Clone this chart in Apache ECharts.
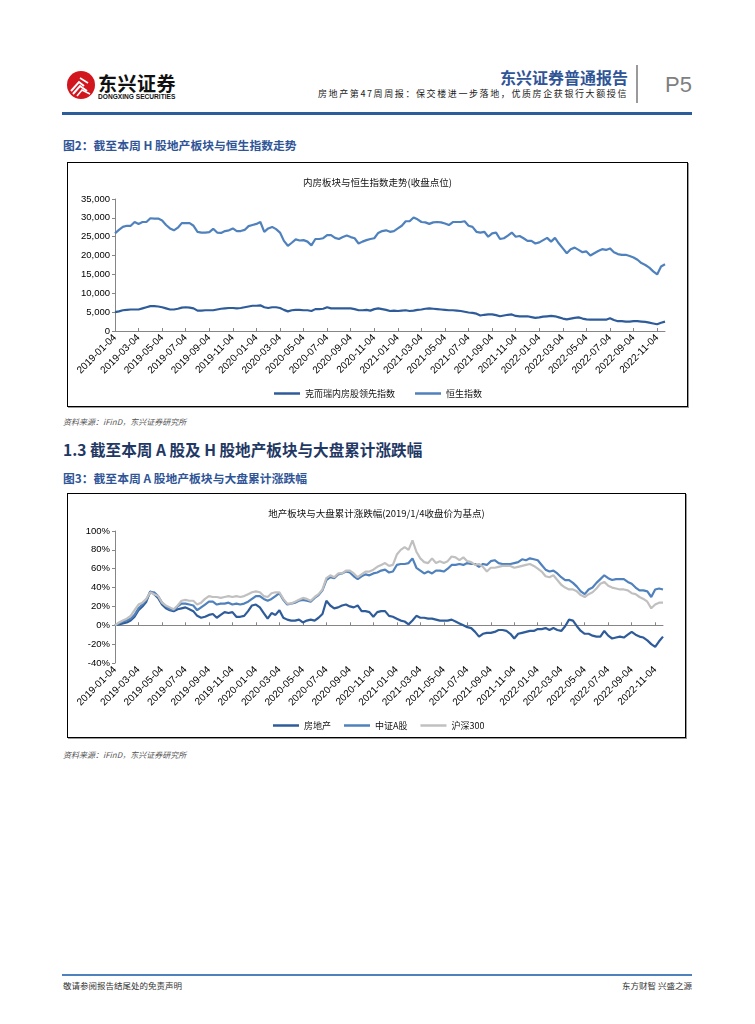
<!DOCTYPE html>
<html><head><meta charset="utf-8">
<script src="https://cdn.jsdelivr.net/npm/echarts@6/dist/echarts.min.js"></script>
<style>
html,body{margin:0;padding:0;background:#fff;}
#page{position:relative;width:755px;height:1024px;overflow:hidden;font-family:"Noto Sans CJK SC","Liberation Sans",sans-serif;}
.t{position:absolute;white-space:nowrap;line-height:1;}
.box{position:absolute;border:1px solid #000;box-shadow:1px 1px 0 #9a9a9a;pointer-events:none;box-sizing:border-box;}
</style></head>
<body><div id="page">
<svg style="position:absolute;left:66px;top:70px" width="30" height="30" viewBox="0 0 30 30">
<circle cx="15" cy="15" r="14" fill="#d2161e"/>
<path d="M5 21 L13 12 L18 16" stroke="#fff" stroke-width="2" fill="none"/>
<path d="M7 24 L14 16 L21 21" stroke="#fff" stroke-width="2" fill="none"/>
<path d="M11 26 L16 20 L24 24" stroke="#fff" stroke-width="1.6" fill="none"/>
<path d="M14 8 L22 13" stroke="#fff" stroke-width="1.6" fill="none"/>
</svg>
<div class="t" style="left:98px;top:73px;font-size:19px;font-weight:bold;color:#111;letter-spacing:0.5px">东兴证券</div>
<div class="t" style="left:98px;top:94px;font-size:6.6px;font-weight:bold;color:#111;font-family:'Liberation Sans'">DONGXING SECURITIES</div>
<div class="t" style="right:127px;top:69px;font-size:16px;font-weight:bold;color:#2f5597">东兴证券普通报告</div>
<div class="t" style="right:127px;top:89px;font-size:9px;color:#222;letter-spacing:1.6px">房地产第47周周报：保交楼进一步落地，优质房企获银行大额授信</div>
<div style="position:absolute;left:636px;top:65px;width:2px;height:38px;background:#9a9a9a"></div>
<div class="t" style="left:665px;top:74px;font-size:22px;color:#7f7f7f;font-family:'Liberation Sans'">P5</div>
<div style="position:absolute;left:62px;top:112px;width:630px;height:3px;background:#2b5d9b"></div>

<div class="t" style="left:63px;top:139px;font-size:11.8px;font-weight:bold;color:#2f5597">图2：截至本周 H 股地产板块与恒生指数走势</div>
<div id="c1" style="position:absolute;left:67px;top:162px;width:621px;height:245px"></div>
<div class="box" style="left:67px;top:162px;width:621px;height:245px"></div>
<div class="t" style="left:63px;top:418px;font-size:8px;font-style:italic;color:#555">资料来源：iFinD，东兴证券研究所</div>

<div class="t" style="left:63px;top:442px;font-size:15.6px;font-weight:bold;color:#1f3864">1.3 截至本周 A 股及 H 股地产板块与大盘累计涨跌幅</div>
<div class="t" style="left:63px;top:472px;font-size:11.8px;font-weight:bold;color:#2f5597">图3：截至本周 A 股地产板块与大盘累计涨跌幅</div>
<div id="c2" style="position:absolute;left:67px;top:493px;width:619px;height:245px"></div>
<div class="box" style="left:67px;top:493px;width:619px;height:245px"></div>
<div class="t" style="left:63px;top:751px;font-size:8px;font-style:italic;color:#555">资料来源：iFinD，东兴证券研究所</div>

<div style="position:absolute;left:62px;top:974px;width:630px;height:2px;background:#4f81bd"></div>
<div class="t" style="left:63px;top:981px;font-size:8.5px;color:#333">敬请参阅报告结尾处的免责声明</div>
<div class="t" style="right:63px;top:981px;font-size:8.5px;color:#333">东方财智 兴盛之源</div>
</div>
<script>
// categories: 3 observation dates per month, 2019-01-04 .. 2022-11-24
const dayMarks = ['04', '14', '24'];
const dates = [];
for (let y = 2019; y <= 2022; y++) {
  for (let m = 1; m <= 12; m++) {
    if (y === 2022 && m > 11) break;
    for (const d of dayMarks) dates.push(y + '-' + String(m).padStart(2, '0') + '-' + d);
  }
}
const labelMonths = /-(01|03|05|07|09|11)-04$/;

// Fig.2: 克而瑞内房股领先指数 & 恒生指数 (closing points)
const kerIndex = [5000,5200,5500,5600,5700,5700,5700,6000,6300,6600,6600,
6500,6300,6000,5700,5700,5900,6200,6300,6200,6000,
5400,5400,5500,5500,5500,5700,5900,6000,6100,6100,
6000,6100,6300,6500,6700,6700,6800,6300,6100,6300,
6300,6100,5600,5200,5500,5600,5600,5500,5500,5300,
5800,5800,5900,6300,6000,6000,6000,6000,6000,6000,
5800,5500,5500,5600,5400,5800,6000,5800,5600,5300,
5400,5300,5400,5500,5300,5400,5600,5700,5900,6000,
5900,5800,5700,5600,5500,5500,5400,5300,5100,4900,
4800,4600,4100,4300,4400,4400,4200,3900,4100,4300,
4400,4000,3900,3900,3900,3700,3500,3600,3800,3900,
4000,3900,3600,3300,3100,3300,3500,3600,3300,3100,
3000,3000,3000,3000,3000,3400,2900,2600,2600,2500,
2500,2600,2600,2500,2400,2200,2000,1800,2200,2500];
const hsiIndex = [25900,26800,27600,27900,27900,28900,28400,28900,28900,29900,29800,
29800,29300,28100,27200,26700,27400,28600,28600,28600,27900,
26300,26100,26100,26200,27100,26100,26000,26500,26700,27200,
26500,26500,26800,27800,28100,28400,28900,26300,27200,27600,
27000,26100,23900,22600,23400,24300,24000,24100,23700,22700,
24400,24400,24600,25400,25400,24700,24400,24900,25300,24900,
24600,23200,23700,24100,24400,24600,26000,26500,26700,26300,
26500,27200,27900,29100,29100,30100,29600,28900,28800,28400,
28800,28900,28800,28500,28100,28900,28900,28900,29100,27900,
27600,26300,26100,26300,25000,25900,26100,24400,24600,25300,
26100,25000,25200,24600,23900,23900,23200,23500,24100,24700,
23700,24700,23200,21900,20600,21700,22100,21500,20900,21100,
20000,20600,21200,21700,21500,21900,20900,20400,20200,20200,
19900,19500,18900,18000,17500,16800,15800,15000,17100,17700];
const yTicks1 = {min: 0, max: 35000, step: 5000};

// Fig.3: cumulative change (%) since 2019/1/4
const realEstate = [0,1,2,3,5,9,16,20,25,36,33,
29,22,18,16,15,17,18,19,17,15,
10,8,9,11,12,8,11,14,13,14,
9,9,10,15,21,22,19,13,7,13,
11,16,8,6,5,5,6,3,5,6,
5,8,12,26,21,18,19,21,22,20,
19,21,15,15,14,9,14,15,15,10,
9,7,5,4,1,5,10,8,8,7,
7,6,5,5,5,6,4,2,0,-2,
-3,-7,-12,-9,-8,-8,-7,-5,-5,-6,
-9,-14,-9,-8,-7,-6,-6,-4,-4,-3,
-5,-3,-5,-6,-1,6,5,-1,-6,-9,
-9,-11,-12,-12,-6,-11,-14,-13,-12,-13,
-10,-7,-10,-12,-13,-16,-20,-23,-17,-12];
const csiAShares = [0,2,4,5,7,11,18,22,27,35,35,
31,24,20,17,16,20,23,23,22,21,
16,19,22,25,25,22,23,23,24,22,
23,22,23,25,28,31,31,28,26,28,
31,34,27,22,23,24,26,27,26,25,
29,32,37,48,51,50,54,55,57,56,
52,49,52,54,53,55,56,58,59,56,
57,64,65,65,66,71,61,58,55,57,
55,58,58,57,60,64,64,65,64,66,
65,65,62,65,64,68,69,66,65,65,
65,66,67,70,69,71,70,69,64,59,
57,58,55,51,48,48,45,41,36,33,
38,40,45,49,53,50,48,49,49,49,
46,44,40,37,37,36,30,38,39,38];
const hs300 = [0,3,5,7,10,16,22,24,28,35,33,
31,24,21,19,17,21,26,27,26,26,
22,24,28,31,30,30,29,30,31,30,
31,30,31,33,35,36,35,31,30,34,
35,35,28,23,23,25,27,29,28,26,
30,33,38,50,53,51,55,55,58,58,
55,51,54,57,57,59,62,64,66,63,
64,75,80,83,80,90,78,71,67,66,
71,66,68,66,68,73,72,69,72,68,
67,64,65,62,57,61,61,62,63,63,
63,61,62,63,64,65,63,60,57,52,
51,53,48,43,40,38,38,36,32,30,
33,35,39,44,46,42,40,39,38,38,
37,34,33,30,28,25,18,22,24,24];
const yTicks2 = {min: -40, max: 100, step: 20};

const DARK = '#2e5c9a', MID = '#4f81bd', GRAY = '#c0c0c0', AXIS = '#868686';
const cjk = 'Noto Sans CJK SC', lat = 'Liberation Sans';
const showLbl = (i, v) => labelMonths.test(v);

function xLabel() {
  return {interval: showLbl, rotate: 45, fontSize: 10, color: '#000', margin: 5, fontFamily: lat};
}
function lineSeries(name, data, color, xi) {
  return {name, type: 'line', data, showSymbol: false, symbol: 'none', xAxisIndex: xi || 0,
    lineStyle: {width: 2.2, color}, itemStyle: {color}, emphasis: {disabled: true}};
}

const c1 = echarts.init(document.getElementById('c1'), null, {renderer: 'canvas'});
c1.setOption({
  animation: false,
  title: {text: '内房板块与恒生指数走势(收盘点位)', left: 'center', top: 11,
    textStyle: {fontSize: 9.5, fontWeight: 'normal', color: '#111', fontFamily: cjk}},
  legend: {top: 222, left: 202, icon: 'rect', itemWidth: 26, itemHeight: 2.5, itemGap: 20,
    textStyle: {fontSize: 9, color: '#111', fontFamily: cjk}},
  grid: {left: 48, top: 37, width: 550, height: 132},
  xAxis: {type: 'category', data: dates, boundaryGap: false,
    axisLine: {lineStyle: {color: AXIS}},
    axisTick: {inside: true, length: 3, interval: showLbl, lineStyle: {color: AXIS}},
    axisLabel: xLabel()},
  yAxis: {type: 'value', min: yTicks1.min, max: yTicks1.max, interval: yTicks1.step,
    splitLine: {show: false},
    axisLine: {show: true, lineStyle: {color: AXIS}},
    axisTick: {show: true, length: 3, lineStyle: {color: AXIS}},
    axisLabel: {formatter: v => v.toLocaleString('en-US'), fontSize: 9.5, color: '#000', margin: 5, fontFamily: lat}},
  series: [lineSeries('克而瑞内房股领先指数', kerIndex, DARK), lineSeries('恒生指数', hsiIndex, MID)]
});

const c2 = echarts.init(document.getElementById('c2'), null, {renderer: 'canvas'});
c2.setOption({
  animation: false,
  title: {text: '地产板块与大盘累计涨跌幅(2019/1/4收盘价为基点)', left: 'center', top: 11,
    textStyle: {fontSize: 9.5, fontWeight: 'normal', color: '#111', fontFamily: cjk}},
  legend: {top: 223, left: 201, icon: 'rect', itemWidth: 26, itemHeight: 2.5, itemGap: 13,
    textStyle: {fontSize: 9, color: '#111', fontFamily: cjk}},
  grid: {left: 48, top: 38, width: 548, height: 132},
  xAxis: [
    {type: 'category', data: dates, boundaryGap: false,
      axisLine: {onZero: true, lineStyle: {color: AXIS}},
      axisTick: {inside: true, length: 3, interval: showLbl, lineStyle: {color: AXIS}},
      axisLabel: {show: false}},
    {type: 'category', data: dates, boundaryGap: false, position: 'bottom',
      axisLine: {show: false, onZero: false}, axisTick: {show: false},
      axisLabel: xLabel()}
  ],
  yAxis: {type: 'value', min: yTicks2.min, max: yTicks2.max, interval: yTicks2.step,
    splitLine: {show: false},
    axisLine: {show: true, lineStyle: {color: AXIS}},
    axisTick: {show: true, length: 3, lineStyle: {color: AXIS}},
    axisLabel: {formatter: v => v + '%', fontSize: 9.5, color: '#000', margin: 5, fontFamily: lat}},
  series: [lineSeries('房地产', realEstate, DARK), lineSeries('中证A股', csiAShares, MID),
    lineSeries('沪深300', hs300, GRAY)]
});
</script>
</body></html>
